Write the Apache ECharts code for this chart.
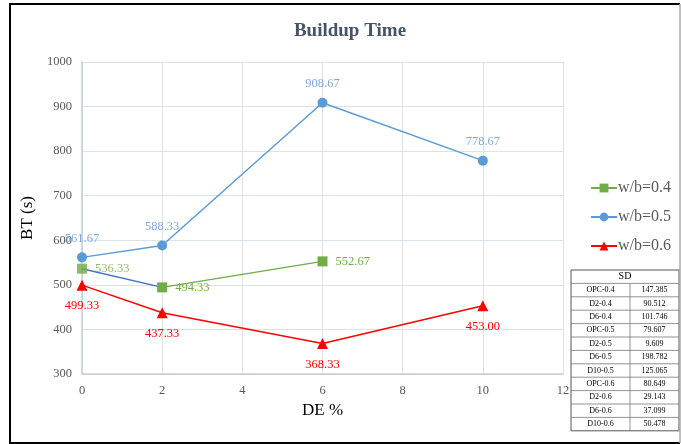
<!DOCTYPE html>
<html><head><meta charset="utf-8">
<script src="https://cdn.jsdelivr.net/npm/echarts@6/dist/echarts.min.js"></script>
<style>html,body{margin:0;padding:0;background:#fff}#c{width:681px;height:444px}</style>
</head><body><div id="c"></div>
<script>
const xWb04 = [0, 2, 6];
const yWb04 = [536.33, 494.33, 552.67];
const xWb05 = [0, 2, 6, 10];
const yWb05 = [561.67, 588.33, 908.67, 778.67];
const xWb06 = [0, 2, 6, 10];
const yWb06 = [499.33, 437.33, 368.33, 453.00];
const seriesNames = ['w/b=0.4', 'w/b=0.5', 'w/b=0.6'];
const sdLabels = ['OPC-0.4','D2-0.4','D6-0.4','OPC-0.5','D2-0.5','D6-0.5','D10-0.5','OPC-0.6','D2-0.6','D6-0.6','D10-0.6'];
const sdValues = ['147.385','90.512','101.746','79.607','9.609','198.782','125.065','80.649','29.143','37.099','50.478'];

const FONT = 'Liberation Serif';
const pairs = (xs, ys) => xs.map((x, i) => [x, ys[i]]);
const fmt = p => p.value[1].toFixed(2);

// SD table graphics
const tbl = [];
const tx = 571, ty = 270, tw = 108, rowH = 13.4, colX = 630;
const nRows = sdLabels.length + 1;
tbl.push({type:'rect', shape:{x:tx, y:ty, width:tw, height:rowH*nRows}, style:{fill:'#fff', stroke:'#555', lineWidth:1}});
for (let r = 1; r < nRows; r++) {
  tbl.push({type:'line', shape:{x1:tx, y1:ty+r*rowH, x2:tx+tw, y2:ty+r*rowH}, style:{stroke:'#777', lineWidth:0.8}});
}
tbl.push({type:'line', shape:{x1:colX, y1:ty+rowH, x2:colX, y2:ty+rowH*nRows}, style:{stroke:'#777', lineWidth:0.8}});
tbl.push({type:'text', x:tx+tw/2, y:ty+rowH/2, style:{text:'SD', font:'10px "Liberation Serif"', fill:'#000', align:'center', verticalAlign:'middle'}});
sdLabels.forEach((l, i) => {
  const yy = ty + (i+1)*rowH + rowH/2;
  tbl.push({type:'text', x:(tx+colX)/2, y:yy, style:{text:l, font:'8px "Liberation Serif"', fill:'#000', align:'center', verticalAlign:'middle'}});
  tbl.push({type:'text', x:(colX+tx+tw)/2, y:yy, style:{text:sdValues[i], font:'8px "Liberation Serif"', fill:'#000', align:'center', verticalAlign:'middle'}});
});
// frame
tbl.push({type:'polyline', shape:{points:[[680,4],[10,4],[10,443],[680,443]]}, style:{stroke:'#000', lineWidth:2, fill:null}});
tbl.push({type:'line', shape:{x1:680, y1:4, x2:680, y2:443}, style:{stroke:'#aaa', lineWidth:1.5}});

const chart = echarts.init(document.getElementById('c'), null, {renderer:'canvas'});
chart.setOption({
  animation: false,
  backgroundColor: '#fff',
  textStyle: {fontFamily: FONT},
  title: {text:'Buildup Time', left: 345, top: 17, textAlign:'center',
    textStyle:{fontFamily:FONT, fontWeight:'bold', fontSize:19, color:'#44546A'}},
  grid: {left: 82, right: 118, top: 62, bottom: 70},
  legend: {
    data: seriesNames, orient:'vertical', left: 585, top: 175, itemGap: 13,
    itemWidth: 26, itemHeight: 11,
    textStyle: {fontFamily: FONT, fontSize: 16, color:'#595959', padding:[0,0,0,-4]}
  },
  xAxis: {
    type:'value', min:0, max:12, interval:2,
    name:'DE %', nameLocation:'middle', nameGap: 27,
    nameTextStyle:{fontFamily:FONT, fontSize:17, color:'#000'},
    axisLine:{show:true, lineStyle:{color:'#C5CCD8', width:1.5}},
    axisTick:{show:false},
    axisLabel:{fontFamily:FONT, fontSize:12.5, color:'#595959', margin:10},
    splitLine:{show:true, lineStyle:{color:'#DDE2EA'}}
  },
  yAxis: {
    type:'value', min:300, max:1000, interval:100,
    name:'BT (s)', nameLocation:'middle', nameGap: 46, nameRotate: 90,
    nameTextStyle:{fontFamily:FONT, fontSize:17, color:'#000'},
    axisLine:{show:true, lineStyle:{color:'#C5CCD8', width:1.5}},
    axisTick:{show:false},
    axisLabel:{fontFamily:FONT, fontSize:12.5, color:'#595959', margin:10, formatter: v => String(v)},
    splitLine:{show:true, lineStyle:{color:'#DDE2EA'}}
  },
  graphic: tbl,
  series: [
    {
      name:'w/b=0.4 first segment', type:'line', data: pairs(xWb04.slice(0,2), yWb04.slice(0,2)),
      showSymbol:false, symbol:'none', lineStyle:{color:'#4472C4', width:1.5}, silent:true, z:1
    },
    {
      name: seriesNames[0], type:'line', data: pairs(xWb04.slice(1), yWb04.slice(1)),
      symbol:'rect', symbolSize:10, color:'#70AD47',
      lineStyle:{color:'#70AD47', width:1.5}, itemStyle:{color:'#70AD47'}, z:3,
      label:{show:true, position:'right', distance:8, formatter:fmt, fontFamily:FONT, fontSize:12.5, color:'#70AD47'}
    },
    {
      name: seriesNames[0] + ' start', type:'scatter', data: pairs(xWb04.slice(0,1), yWb04.slice(0,1)),
      symbol:'rect', symbolSize:10, itemStyle:{color:'#70AD47'}, z:3,
      label:{show:true, position:'right', distance:8, formatter:fmt, fontFamily:FONT, fontSize:12.5, color:'#70AD47'}
    },
    {
      name: seriesNames[1], type:'line', data: pairs(xWb05, yWb05),
      symbol:'circle', symbolSize:10, color:'#5B9BD5',
      lineStyle:{color:'#5B9BD5', width:1.5}, itemStyle:{color:'#5B9BD5'}, z:3,
      label:{show:true, position:'top', distance:7, formatter:fmt, fontFamily:FONT, fontSize:12.5, color:'#7FA9D8'}
    },
    {
      name: seriesNames[2], type:'line', data: pairs(xWb06, yWb06),
      symbol:'triangle', symbolSize:11, color:'#FF0000',
      lineStyle:{color:'#FF0000', width:1.5}, itemStyle:{color:'#FF0000'}, z:3,
      label:{show:true, position:'bottom', distance:9, formatter:fmt, fontFamily:FONT, fontSize:12.5, color:'#FF0000'}
    }
  ]
});
</script></body></html>
